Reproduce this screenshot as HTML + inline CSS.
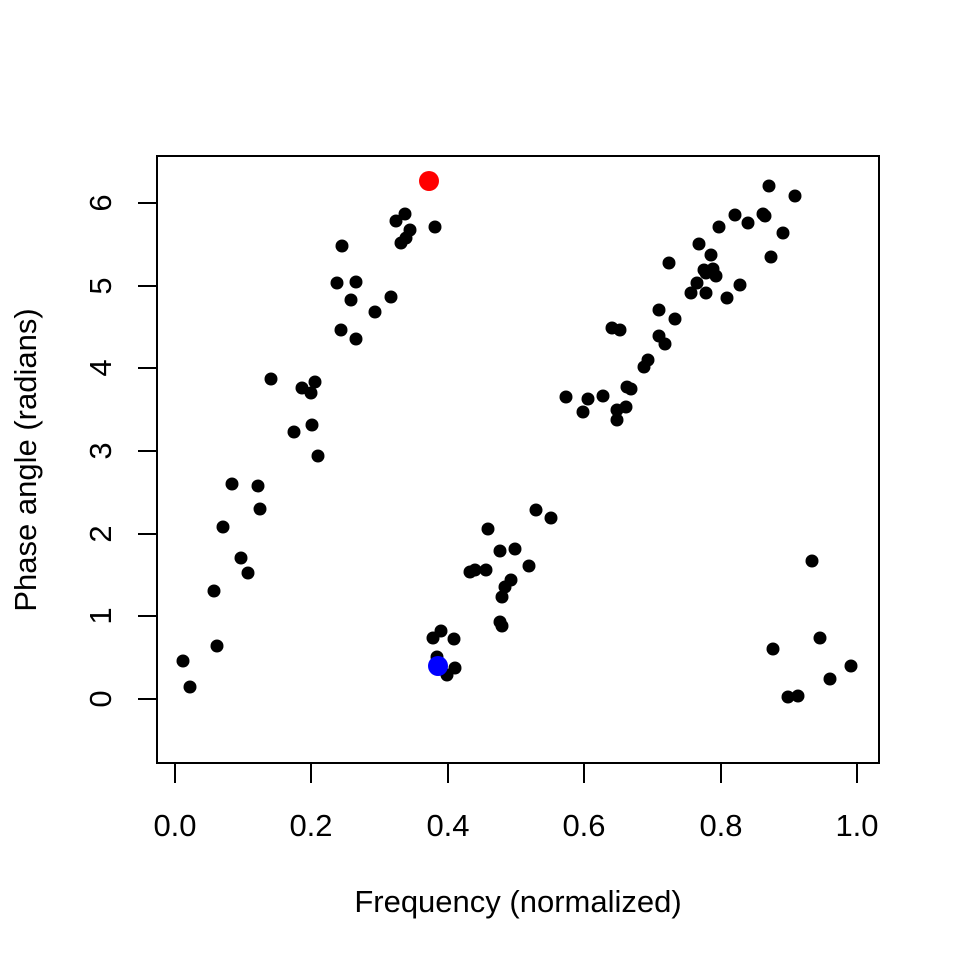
<!DOCTYPE html>
<html><head><style>body{margin:0;background:#fff}</style></head><body>
<svg width="960" height="960" xmlns="http://www.w3.org/2000/svg" font-family="Liberation Sans, sans-serif" font-size="31">
<rect x="157" y="156" width="722" height="607" fill="none" stroke="#000" stroke-width="2"/>
<g stroke="#000" stroke-width="2">
<line x1="175" y1="763" x2="857" y2="763"/>
<line x1="175" y1="763" x2="175" y2="783"/><line x1="311" y1="763" x2="311" y2="783"/><line x1="448" y1="763" x2="448" y2="783"/><line x1="584" y1="763" x2="584" y2="783"/><line x1="721" y1="763" x2="721" y2="783"/><line x1="857" y1="763" x2="857" y2="783"/>
<line x1="157" y1="699" x2="157" y2="203"/>
<line x1="138" y1="699" x2="157" y2="699"/><line x1="138" y1="616" x2="157" y2="616"/><line x1="138" y1="534" x2="157" y2="534"/><line x1="138" y1="451" x2="157" y2="451"/><line x1="138" y1="368" x2="157" y2="368"/><line x1="138" y1="286" x2="157" y2="286"/><line x1="138" y1="203" x2="157" y2="203"/>
</g>
<g text-anchor="middle">
<text x="175" y="836">0.0</text><text x="311" y="836">0.2</text><text x="448" y="836">0.4</text><text x="584" y="836">0.6</text><text x="721" y="836">0.8</text><text x="857" y="836">1.0</text>
<text x="518" y="912">Frequency (normalized)</text>
<g transform="translate(111,0)">
<text transform="translate(0,699) rotate(-90)">0</text><text transform="translate(0,616) rotate(-90)">1</text><text transform="translate(0,534) rotate(-90)">2</text><text transform="translate(0,451) rotate(-90)">3</text><text transform="translate(0,368) rotate(-90)">4</text><text transform="translate(0,286) rotate(-90)">5</text><text transform="translate(0,203) rotate(-90)">6</text>
</g>
<text transform="translate(36,460) rotate(-90)">Phase angle (radians)</text>
</g>
<g fill="#000">
<circle cx="183" cy="661" r="6.5"/><circle cx="190" cy="687" r="6.5"/><circle cx="217" cy="646" r="6.5"/><circle cx="214" cy="591" r="6.5"/><circle cx="223" cy="527" r="6.5"/><circle cx="232" cy="484" r="6.5"/><circle cx="241" cy="558" r="6.5"/><circle cx="248" cy="573" r="6.5"/><circle cx="258" cy="486" r="6.5"/><circle cx="260" cy="509" r="6.5"/><circle cx="271" cy="379" r="6.5"/><circle cx="294" cy="432" r="6.5"/><circle cx="302" cy="388" r="6.5"/><circle cx="311" cy="393" r="6.5"/><circle cx="312" cy="425" r="6.5"/><circle cx="315" cy="382" r="6.5"/><circle cx="318" cy="456" r="6.5"/><circle cx="337" cy="283" r="6.5"/><circle cx="342" cy="246" r="6.5"/><circle cx="341" cy="330" r="6.5"/><circle cx="351" cy="300" r="6.5"/><circle cx="356" cy="282" r="6.5"/><circle cx="356" cy="339" r="6.5"/><circle cx="375" cy="312" r="6.5"/><circle cx="391" cy="297" r="6.5"/><circle cx="396" cy="221" r="6.5"/><circle cx="401" cy="243" r="6.5"/><circle cx="405" cy="214" r="6.5"/><circle cx="406" cy="238" r="6.5"/><circle cx="410" cy="230" r="6.5"/><circle cx="435" cy="227" r="6.5"/><circle cx="433" cy="638" r="6.5"/><circle cx="437" cy="657" r="6.5"/><circle cx="441" cy="631" r="6.5"/><circle cx="447" cy="675" r="6.5"/><circle cx="455" cy="668" r="6.5"/><circle cx="454" cy="639" r="6.5"/><circle cx="470" cy="572" r="6.5"/><circle cx="475" cy="570" r="6.5"/><circle cx="486" cy="570" r="6.5"/><circle cx="488" cy="529" r="6.5"/><circle cx="500" cy="551" r="6.5"/><circle cx="502" cy="597" r="6.5"/><circle cx="502" cy="626" r="6.5"/><circle cx="500" cy="622" r="6.5"/><circle cx="505" cy="587" r="6.5"/><circle cx="511" cy="580" r="6.5"/><circle cx="515" cy="549" r="6.5"/><circle cx="529" cy="566" r="6.5"/><circle cx="536" cy="510" r="6.5"/><circle cx="551" cy="518" r="6.5"/><circle cx="566" cy="397" r="6.5"/><circle cx="583" cy="412" r="6.5"/><circle cx="588" cy="399" r="6.5"/><circle cx="603" cy="396" r="6.5"/><circle cx="612" cy="328" r="6.5"/><circle cx="617" cy="410" r="6.5"/><circle cx="617" cy="420" r="6.5"/><circle cx="620" cy="330" r="6.5"/><circle cx="626" cy="407" r="6.5"/><circle cx="627" cy="387" r="6.5"/><circle cx="631" cy="389" r="6.5"/><circle cx="644" cy="367" r="6.5"/><circle cx="648" cy="360" r="6.5"/><circle cx="659" cy="310" r="6.5"/><circle cx="659" cy="336" r="6.5"/><circle cx="665" cy="344" r="6.5"/><circle cx="675" cy="319" r="6.5"/><circle cx="669" cy="263" r="6.5"/><circle cx="691" cy="293" r="6.5"/><circle cx="697" cy="283" r="6.5"/><circle cx="699" cy="244" r="6.5"/><circle cx="704" cy="270" r="6.5"/><circle cx="706" cy="293" r="6.5"/><circle cx="706" cy="273" r="6.5"/><circle cx="711" cy="255" r="6.5"/><circle cx="713" cy="269" r="6.5"/><circle cx="716" cy="276" r="6.5"/><circle cx="719" cy="227" r="6.5"/><circle cx="727" cy="298" r="6.5"/><circle cx="735" cy="215" r="6.5"/><circle cx="740" cy="285" r="6.5"/><circle cx="748" cy="223" r="6.5"/><circle cx="763" cy="214" r="6.5"/><circle cx="765" cy="216" r="6.5"/><circle cx="769" cy="186" r="6.5"/><circle cx="771" cy="257" r="6.5"/><circle cx="783" cy="233" r="6.5"/><circle cx="795" cy="196" r="6.5"/><circle cx="773" cy="649" r="6.5"/><circle cx="788" cy="697" r="6.5"/><circle cx="798" cy="696" r="6.5"/><circle cx="812" cy="561" r="6.5"/><circle cx="820" cy="638" r="6.5"/><circle cx="830" cy="679" r="6.5"/><circle cx="851" cy="666" r="6.5"/>
</g>
<circle cx="429" cy="181" r="10" fill="#f00"/>
<circle cx="438" cy="666" r="10" fill="#00f"/>
</svg>
</body></html>
